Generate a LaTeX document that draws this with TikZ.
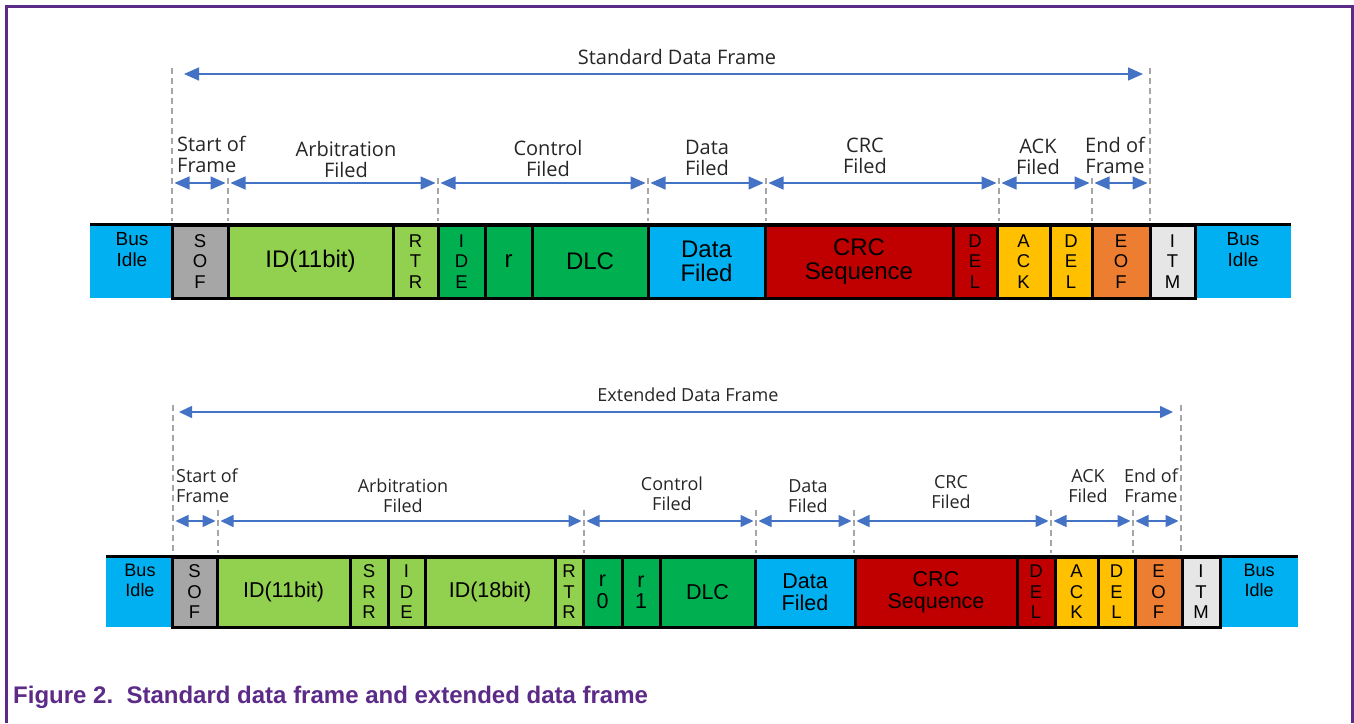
\documentclass[tikz,border=0pt]{standalone}
\usepackage{fontspec}
\setmainfont{Liberation Sans}
\newfontfamily\lblfont{Open Sans}
\usetikzlibrary{arrows.meta}

\definecolor{idleblue}{HTML}{00B0F0}
\definecolor{sofgray}{HTML}{A6A6A6}
\definecolor{lgreen}{HTML}{92D050}
\definecolor{dgreen}{HTML}{00B050}
\definecolor{crcred}{HTML}{C00000}
\definecolor{ackyel}{HTML}{FFC000}
\definecolor{eoforange}{HTML}{ED7D31}
\definecolor{itmgray}{HTML}{E7E6E6}
\definecolor{spanblue}{HTML}{4472C4}
\definecolor{guidegray}{HTML}{A6A6A6}
\definecolor{nxppurple}{HTML}{5C2A87}
\definecolor{lbltext}{HTML}{262626}

\begin{document}
\begin{tikzpicture}[x=1pt, y=-1pt,
    fld/.style={draw=black, line width=3pt, inner sep=0pt, align=center},
    idle/.style={fill=idleblue, inner sep=0pt},
    big/.style={font=\fontsize{24}{23.5}\selectfont},
    vert/.style={font=\fontsize{18.5}{20.5}\selectfont},
    bigb/.style={font=\fontsize{21.5}{21.5}\selectfont},
    vertb/.style={font=\fontsize{18.5}{20.5}\selectfont},
    idletxt/.style={align=center, inner sep=0pt, font=\fontsize{19}{20.5}\selectfont},
    grp/.style={align=center, inner sep=0pt, text=lbltext, font=\lblfont\fontsize{20}{21}\selectfont},
    grpb/.style={align=center, inner sep=0pt, text=lbltext, font=\lblfont\fontsize{18}{20}\selectfont},
    span/.style={draw=spanblue, line width=1.5pt, {Triangle[length=15pt,width=13pt]}-{Triangle[length=15pt,width=13pt]}, shorten <=2.5pt, shorten >=2.5pt},
    spanb/.style={span, {Triangle[length=13pt,width=12pt]}-{Triangle[length=13pt,width=12pt]}},
    guide/.style={draw=guidegray, line width=1.2pt, dash pattern=on 6pt off 4pt}
    ]
    \useasboundingbox (0,0) rectangle (1354,723);
    \draw[nxppurple, line width=3pt] (6,723) -- (6,6) -- (1352,6) -- (1352,723);

    % standard frame
    \node[idle, minimum width=82pt, minimum height=73pt] (tidlel) at (131,261.5) {};
    \node[idle, minimum width=96pt, minimum height=73pt] (tidler) at (1243,261.5) {};
    \node[idletxt] (tidlelt) at (132,249.5) {Bus\\Idle};
    \node[idletxt] (tidlert) at (1243,249.5) {Bus\\Idle};
    \foreach \nm/\xa/\xb/\col/\st/\txt in {
        sof/172/228/sofgray/vert/{S\\O\\F},
        id/228/393/lgreen/big/{ID(11bit)},
        rtr/393/438/lgreen/vert/{R\\T\\R},
        ide/438/485/dgreen/vert/{I\\D\\E},
        r/485/532/dgreen/big/{r},
        dlc/532/648/dgreen/big/{DLC},
        data/648/765/idleblue/big/{Data\\Filed},
        crc/765/953/crcred/big/{CRC\\Sequence},
        del/953/997/crcred/vert/{D\\E\\L},
        ack/997/1050/ackyel/vert/{A\\C\\K},
        adel/1050/1092/ackyel/vert/{D\\E\\L},
        eof/1092/1150/eoforange/vert/{E\\O\\F},
        itm/1150/1195/itmgray/vert/{I\\T\\M}}
        \node[fld, \st, fill=\col, minimum width={\xb-\xa}, minimum height=73pt] (t\nm) at ({(\xa+\xb)/2},261.5) {\txt};
    \draw[line width=3pt] (tidlel.north west) -- (tidler.north east);

    \foreach \i/\x in {0/172,1/228,2/438,3/648,4/766,5/999,6/1092,7/1150} {
        \coordinate (ta\i) at (\x,183);
        \coordinate (tu\i) at (\x,178);
        \coordinate (td\i) at (\x,221);
    }
    \coordinate (tt0) at (172,68);
    \coordinate (tt7) at (1150,68);
    \foreach \i in {1,...,6}
        \draw[guide] (tu\i) -- (td\i);
    \draw[guide] (tt0) -- (td0);
    \draw[guide] (tt7) -- (td7);
    \foreach \i [evaluate=\i as \j using int(\i+1)] in {0,...,6}
        \draw[span] (ta\i) -- (ta\j);

    \coordinate (thl) at (172,74);
    \coordinate (thr) at (1150,74);
    \draw[span, shorten <=12pt, shorten >=7pt] (thl) -- (thr);
    \node[grp] (ttitle) at (677,57) {Standard Data Frame};

    \node[grp, align=left, anchor=west] (tlsof) at (177,154) {Start of\\Frame};
    \node[grp] (tlarb) at (346,159) {Arbitration\\Filed};
    \node[grp] (tlctl) at (548,158) {Control\\Filed};
    \node[grp] (tldat) at (707,158) {Data\\Filed};
    \node[grp] (tlcrc) at (865,156) {CRC\\Filed};
    \node[grp] (tlack) at (1038,157) {ACK\\Filed};
    \node[grp] (tleof) at (1115,155) {End of\\Frame};

    % extended frame
    \node[idle, minimum width=66pt, minimum height=70pt] (bidlel) at (139,592) {};
    \node[idle, minimum width=78pt, minimum height=70pt] (bidler) at (1259,592) {};
    \node[idletxt, font=\fontsize{18}{20}\selectfont] (bidlelt) at (140,580.5) {Bus\\Idle};
    \node[idletxt, font=\fontsize{18}{20}\selectfont] (bidlert) at (1259,580.5) {Bus\\Idle};
    \foreach \nm/\xa/\xb/\col/\st/\txt in {
        sof/172/217/sofgray/vertb/{S\\O\\F},
        id/217/350/lgreen/bigb/{ID(11bit)},
        srr/350/388/lgreen/vertb/{S\\R\\R},
        ide/388/425/lgreen/vertb/{I\\D\\E},
        eid/425/555/lgreen/bigb/{ID(18bit)},
        rtr/555/583/lgreen/vertb/{R\\T\\R},
        rz/583/622/dgreen/bigb/{r\\0},
        ro/622/660/dgreen/bigb/{r\\1},
        dlc/660/755/dgreen/bigb/{DLC},
        data/755/855/idleblue/bigb/{Data\\Filed},
        crc/855/1017/crcred/bigb/{CRC\\Sequence},
        del/1017/1055/crcred/vertb/{D\\E\\L},
        ack/1055/1098/ackyel/vertb/{A\\C\\K},
        adel/1098/1135/ackyel/vertb/{D\\E\\L},
        eof/1135/1182/eoforange/vertb/{E\\O\\F},
        itm/1182/1220/itmgray/vertb/{I\\T\\M}}
        \node[fld, \st, fill=\col, minimum width={\xb-\xa}, minimum height=70pt] (b\nm) at ({(\xa+\xb)/2},592) {\txt};
    \draw[line width=3pt] (bidlel.north west) -- (bidler.north east);

    \foreach \i/\x in {0/173,1/218,2/584,3/756,4/854,5/1051,6/1133,7/1181} {
        \coordinate (ba\i) at (\x,521);
        \coordinate (bu\i) at (\x,510);
        \coordinate (bd\i) at (\x,553);
    }
    \coordinate (bt0) at (173,405);
    \coordinate (bt7) at (1181,405);
    \foreach \i in {1,...,6}
        \draw[guide] (bu\i) -- (bd\i);
    \draw[guide] (bt0) -- (bd0);
    \draw[guide] (bt7) -- (bd7);
    \foreach \i [evaluate=\i as \j using int(\i+1)] in {0,...,6}
        \draw[spanb] (ba\i) -- (ba\j);

    \coordinate (bhl) at (173,412);
    \coordinate (bhr) at (1181,412);
    \draw[spanb, shorten <=6pt, shorten >=8pt] (bhl) -- (bhr);
    \node[grpb] (btitle) at (688,395) {Extended Data Frame};

    \node[grpb, align=left, anchor=west] (blsof) at (176,486) {Start of\\Frame};
    \node[grpb] (blarb) at (403,496) {Arbitration\\Filed};
    \node[grpb] (blctl) at (672,494) {Control\\Filed};
    \node[grpb] (bldat) at (808,496) {Data\\Filed};
    \node[grpb] (blcrc) at (951,492) {CRC\\Filed};
    \node[grpb] (black) at (1088,486) {ACK\\Filed};
    \node[grpb] (bleof) at (1151,486) {End of\\Frame};

    \node[anchor=base west, inner sep=0pt, text=nxppurple, font=\bfseries\fontsize{24}{24}\selectfont] (caption) at (13,703) {Figure 2.\ \ Standard data frame and extended data frame};
\end{tikzpicture}
\end{document}
